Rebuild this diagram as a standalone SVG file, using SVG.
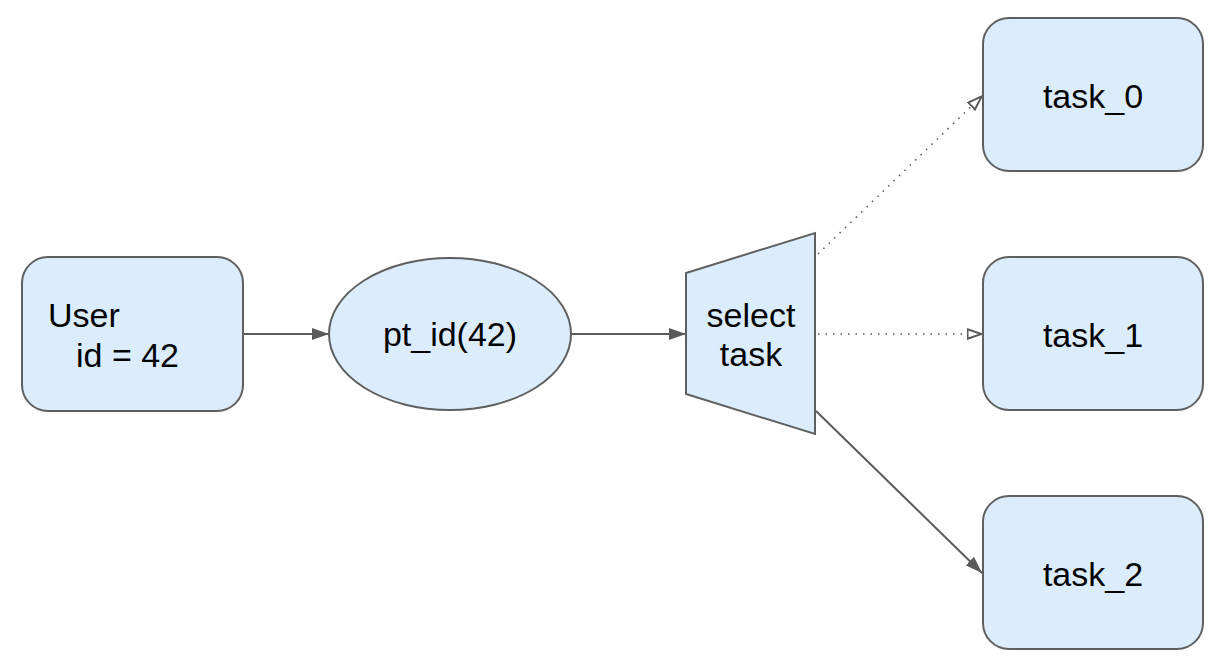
<svg xmlns="http://www.w3.org/2000/svg" width="1228" height="670" viewBox="0 0 1228 670">
  <defs>
    <style>
      .node { fill: #dbedfd; stroke: #5f5f5f; stroke-width: 2; }
      .label { font-family: "Liberation Sans", Arial, sans-serif; font-size: 34px; fill: #000; }
      .mid { text-anchor: middle; }
      .edge { fill: none; stroke: #5a5a5a; stroke-width: 2; }
      .dotted { stroke-dasharray: 1.5 6; stroke-width: 1.6; }
    </style>
    <marker id="arrow-solid" viewBox="0 0 10 10" refX="10" refY="5" markerWidth="17" markerHeight="12" markerUnits="userSpaceOnUse" orient="auto" preserveAspectRatio="none">
      <path d="M0,0 L10,5 L0,10 Z" fill="#5a5a5a"/>
    </marker>
    <marker id="arrow-open" viewBox="0 0 16 12" refX="15.5" refY="6" markerWidth="16" markerHeight="12" markerUnits="userSpaceOnUse" orient="auto">
      <path d="M1,1.2 L15,6 L1,10.8 Z" fill="#fff" stroke="#5a5a5a" stroke-width="2"/>
    </marker>
  </defs>

  <g id="connectors">
    <line class="edge" x1="243" y1="334" x2="329" y2="334" marker-end="url(#arrow-solid)"/>
    <line class="edge" x1="571" y1="334" x2="686" y2="334" marker-end="url(#arrow-solid)"/>
    <line class="edge dotted" x1="818" y1="254" x2="982" y2="96" marker-end="url(#arrow-open)"/>
    <line class="edge dotted" x1="818" y1="334" x2="982" y2="334" marker-end="url(#arrow-open)"/>
    <line class="edge" x1="816" y1="411" x2="982" y2="573" marker-end="url(#arrow-solid)"/>
  </g>

  <g id="user">
    <rect class="node" x="22" y="257" width="221" height="154" rx="26"/>
    <text class="label" x="48" y="327">User</text>
    <text class="label" x="76" y="367">id = 42</text>
  </g>

  <g id="pt_id">
    <ellipse class="node" cx="450" cy="334" rx="121" ry="76"/>
    <text class="label mid" x="450" y="346">pt_id(42)</text>
  </g>

  <g id="select_task">
    <polygon class="node" points="686,273 815,233 815,434 686,394"/>
    <text class="label mid" x="751" y="327">select</text>
    <text class="label mid" x="751" y="366">task</text>
  </g>

  <g id="task_0">
    <rect class="node" x="983" y="18" width="220" height="153" rx="26"/>
    <text class="label mid" x="1093" y="108">task_0</text>
  </g>

  <g id="task_1">
    <rect class="node" x="983" y="257" width="220" height="153" rx="26"/>
    <text class="label mid" x="1093" y="347">task_1</text>
  </g>

  <g id="task_2">
    <rect class="node" x="983" y="496" width="220" height="153" rx="26"/>
    <text class="label mid" x="1093" y="586">task_2</text>
  </g>
</svg>
